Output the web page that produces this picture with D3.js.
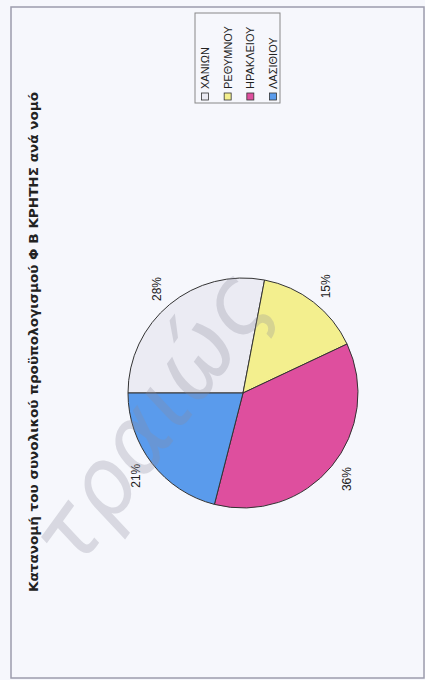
<!DOCTYPE html>
<html><head><meta charset="utf-8">
<script src="https://cdn.jsdelivr.net/npm/d3@7"></script>
<style>html,body{margin:0;padding:0;background:#f6f7fc;}svg{display:block;}</style>
</head><body>
<script>
const categories = ["ΧΑΝΙΩΝ", "ΡΕΘΥΜΝΟΥ", "ΗΡΑΚΛΕΙΟΥ", "ΛΑΣΙΘΙΟΥ"];
const values = [28, 15, 36, 21];
const colors = ["#ebebf3", "#f3ef8e", "#de4f9e", "#5a9bec"];
const title = "Κατανομή του συνολικού προϋπολογισμού Φ Β ΚΡΗΤΗΣ ανά νομό";
const watermark = "τραιώς";

const W = 425, H = 680;
const svg = d3.select("body").append("svg").attr("width", W).attr("height", H);
svg.append("rect").attr("width", W).attr("height", H).attr("fill", "#f6f7fc");

// frame
svg.append("rect").attr("x", 11).attr("y", 7).attr("width", 413).attr("height", 671)
  .attr("fill", "none").attr("stroke", "#9c9cac").attr("stroke-width", 1.5);

// rotated chart group: local (u,v) -> screen (v, 680-u)
const g = svg.append("g").attr("transform", `translate(0,${H}) rotate(-90)`);

g.append("text")
  .attr("x", 88).attr("y", 38)
  .attr("font-family", "DejaVu Sans, sans-serif")
  .attr("font-weight", "bold").attr("font-size", 13)
  .attr("fill", "#222")
  .attr("textLength", 500).attr("lengthAdjust", "spacingAndGlyphs")
  .text(title);

const cx = 287, cy = 243, r = 115;
const pie = d3.pie().sort(null).value(d => d)(values);
const arc = d3.arc().innerRadius(0).outerRadius(r);
const labelArc = d3.arc().innerRadius(135).outerRadius(135);
const pg = g.append("g").attr("transform", `translate(${cx},${cy})`);
pg.selectAll("path").data(pie).join("path")
  .attr("d", arc)
  .attr("fill", (d, i) => colors[i])
  .attr("stroke", "#333").attr("stroke-width", 1);
pg.selectAll("text").data(pie).join("text")
  .attr("transform", d => `translate(${labelArc.centroid(d)})`)
  .attr("text-anchor", "middle").attr("dominant-baseline", "central")
  .attr("font-family", "Liberation Sans, Arial, sans-serif").attr("font-size", 12)
  .attr("fill", "#222")
  .text(d => d3.format(".0%")(d.data / d3.sum(values)));

// legend
const lg = g.append("g");
lg.append("rect").attr("x", 577).attr("y", 195).attr("width", 90).attr("height", 85)
  .attr("fill", "none").attr("stroke", "#888").attr("stroke-width", 1);
const ly = d3.scalePoint().domain(categories).range([205, 273]);
const items = lg.selectAll("g.item").data(categories).join("g").attr("class", "item")
  .attr("transform", d => `translate(580,${ly(d)})`);
items.append("rect").attr("x", 0).attr("y", -3.5).attr("width", 7).attr("height", 7)
  .attr("fill", (d, i) => colors[i]).attr("stroke", "#333").attr("stroke-width", 0.8);
items.append("text").attr("x", 11).attr("y", 0).attr("dominant-baseline", "central")
  .attr("font-family", "Liberation Sans, Arial, sans-serif").attr("font-size", 11)
  .attr("fill", "#222")
  .text(d => d);

// watermark (drawn over the chart, as in the scan)
svg.append("text")
  .attr("transform", "translate(274,302) rotate(-54)")
  .attr("text-anchor", "end")
  .attr("font-family", "DejaVu Sans")
  .attr("font-style", "italic")
  .attr("font-size", 92)
  .attr("fill", "#8c8c9c").attr("opacity", 0.28)
  .text(watermark);
</script>
</body></html>
